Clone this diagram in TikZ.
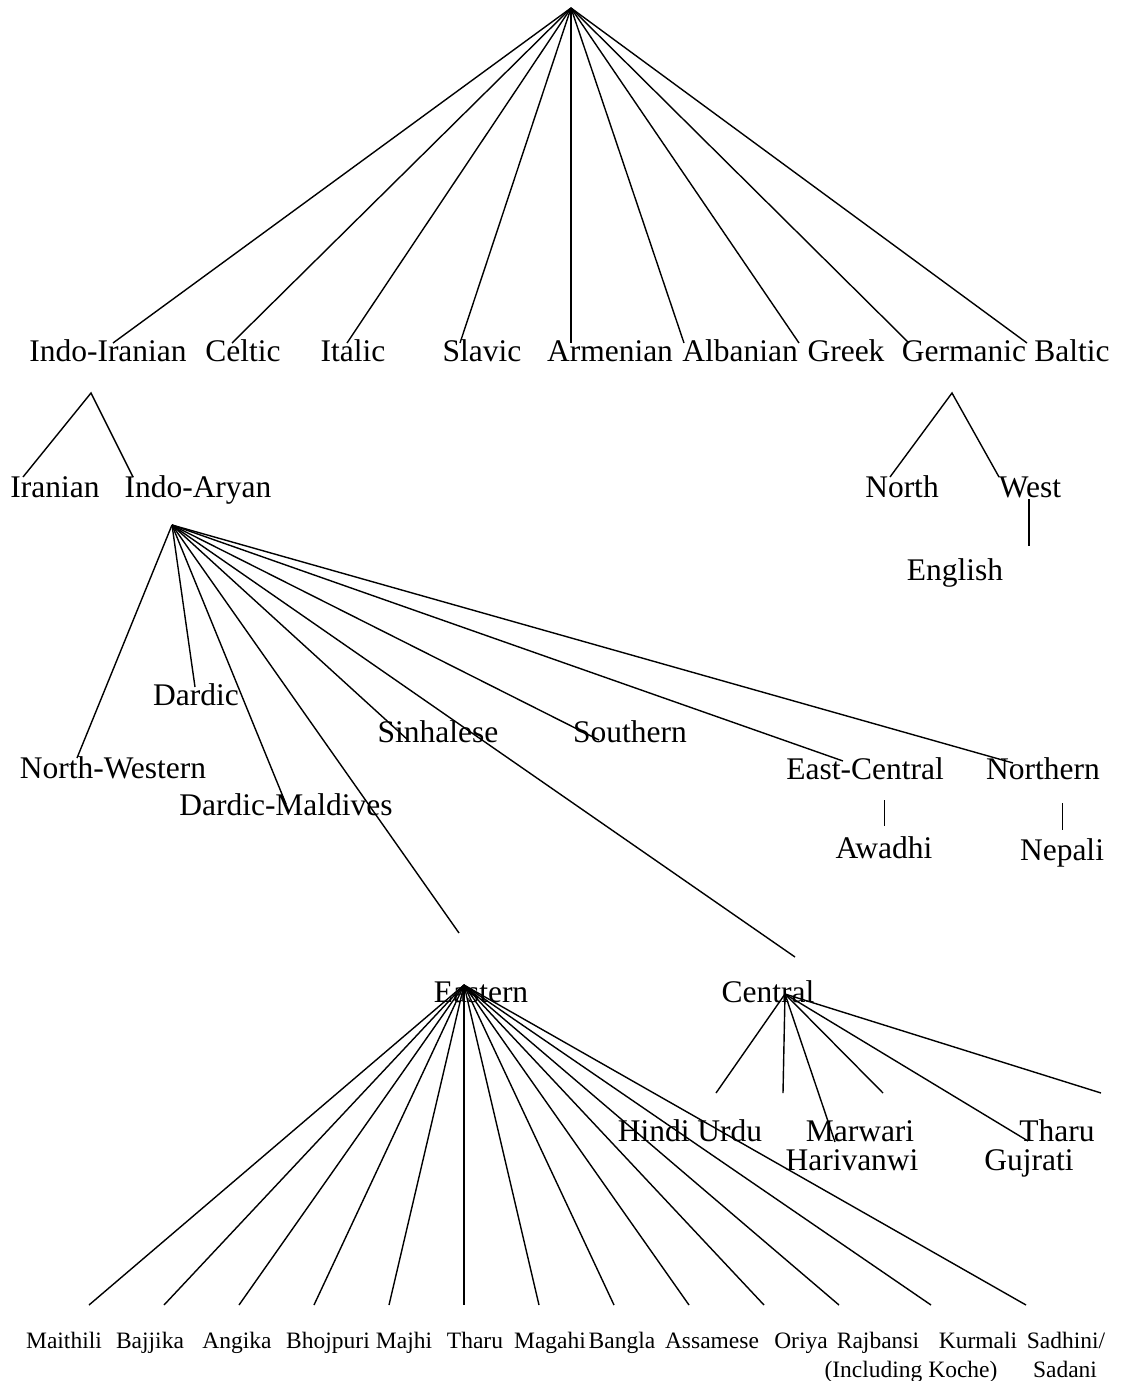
\documentclass[tikz,border=0pt]{standalone}
\usepackage{fontspec}
\setmainfont{Liberation Serif}
\usetikzlibrary{positioning}

\begin{document}
\begin{tikzpicture}[x=0.5pt, y=-0.5pt, line width=0.7pt,
    lang/.style={anchor=base, inner sep=0pt, font=\fontsize{15.75}{18}\selectfont},
    leaf/.style={anchor=base, inner sep=0pt, font=\fontsize{11.75}{14}\selectfont}]

        \useasboundingbox (0,0) rectangle (1120,1381);

        % Root and the first level
        \coordinate (ie) at (571, 8);
        \node[lang] (indoiranian) at (108, 361) {Indo-Iranian};
        \node[lang] (celtic) at (243, 361) {Celtic};
        \node[lang] (italic) at (353, 361) {Italic};
        \node[lang] (slavic) at (482, 361) {Slavic};
        \node[lang] (armenian) at (610, 361) {Armenian};
        \node[lang] (albanian) at (740, 361) {Albanian};
        \node[lang] (greek) at (846, 361) {Greek};
        \node[lang] (germanic) at (964, 361) {Germanic};
        \node[lang] (baltic) at (1072, 361) {Baltic};

        \coordinate (t1) at (113, 343);
        \coordinate (t2) at (232, 343);
        \coordinate (t3) at (347, 343);
        \coordinate (t4) at (460, 343);
        \coordinate (t5) at (571, 343);
        \coordinate (t6) at (684, 343);
        \coordinate (t7) at (799, 343);
        \coordinate (t8) at (909, 343);
        \coordinate (t9) at (1027, 343);
        \draw (ie) -- (t1);
        \draw (ie) -- (t2);
        \draw (ie) -- (t3);
        \draw (ie) -- (t4);
        \draw (ie) -- (t5);
        \draw (ie) -- (t6);
        \draw (ie) -- (t7);
        \draw (ie) -- (t8);
        \draw (ie) -- (t9);

        % Indo-Iranian and Germanic branches
        \coordinate (ii) at (91, 393);
        \node[lang] (iranian) at (55, 497) {Iranian};
        \node[lang] (indoaryan) at (198, 497) {Indo-Aryan};
        \coordinate (ii1) at (23, 477);
        \coordinate (ii2) at (133, 477);
        \draw (ii1) -- (ii) -- (ii2);

        \coordinate (gm) at (952, 393);
        \node[lang] (north) at (902, 497) {North};
        \node[lang] (west) at (1030, 497) {West};
        \node[lang] (english) at (955, 580) {English};
        \coordinate (gm1) at (890, 477);
        \coordinate (gm2) at (999, 477);
        \draw (gm1) -- (gm) -- (gm2);
        \coordinate (w1) at (1029, 499);
        \coordinate (w2) at (1029, 546);
        \draw (w1) -- (w2);

        % Indo-Aryan
        \coordinate (ia) at (172, 525);
        \node[lang] (dardic) at (196, 705) {Dardic};
        \node[lang] (northwestern) at (113, 778) {North-Western};
        \node[lang] (maldives) at (286, 815) {Dardic-Maldives};
        \node[lang] (sinhalese) at (438, 742) {Sinhalese};
        \node[lang] (southern) at (630, 742) {Southern};
        \node[lang] (eastcentral) at (865, 779) {East-Central};
        \node[lang] (northern) at (1043, 779) {Northern};
        \node[lang] (eastern) at (481, 1002) {Eastern};
        \node[lang] (central) at (768, 1002) {Central};

        \coordinate (a1) at (77, 758);
        \coordinate (a2) at (195, 687);
        \coordinate (a3) at (286, 804);
        \coordinate (a4) at (459, 933);
        \coordinate (a5) at (408, 740);
        \coordinate (a6) at (795, 957);
        \coordinate (a7) at (599, 740);
        \coordinate (a8) at (843, 761);
        \coordinate (a9) at (1013, 763);
        \draw (ia) -- (a1);
        \draw (ia) -- (a2);
        \draw (ia) -- (a3);
        \draw (ia) -- (a4);
        \draw (ia) -- (a5);
        \draw (ia) -- (a6);
        \draw (ia) -- (a7);
        \draw (ia) -- (a8);
        \draw (ia) -- (a9);

        \node[lang] (awadhi) at (884, 858) {Awadhi};
        \node[lang] (nepali) at (1062, 860) {Nepali};
        \coordinate (ec1) at (884, 800);
        \coordinate (ec2) at (884, 826);
        \coordinate (no1) at (1062, 803);
        \coordinate (no2) at (1062, 830);
        \draw[line width=0.4pt] (ec1) -- (ec2);
        \draw[line width=0.4pt] (no1) -- (no2);

        % Central
        \coordinate (ce) at (785, 994);
        \node[lang] (hindiurdu) at (690, 1141) {Hindi Urdu};
        \node[lang] (marwari) at (860, 1141) {Marwari};
        \node[lang] (harivanwi) at (852, 1170) {Harivanwi};
        \node[lang] (tharuc) at (1057, 1141) {Tharu};
        \node[lang] (gujrati) at (1029, 1170) {Gujrati};
        \coordinate (c1) at (716, 1093);
        \coordinate (c2) at (783, 1093);
        \coordinate (c3) at (835, 1142);
        \coordinate (c4) at (883, 1093);
        \coordinate (c5) at (1028, 1141);
        \coordinate (c6) at (1101, 1093);
        \draw (ce) -- (c1);
        \draw (ce) -- (c2);
        \draw (ce) -- (c3);
        \draw (ce) -- (c4);
        \draw (ce) -- (c5);
        \draw (ce) -- (c6);

        % Eastern
        \coordinate (ea) at (464, 985);
        \node[leaf] (maithili) at (64, 1348) {Maithili};
        \node[leaf] (bajjika) at (150, 1348) {Bajjika};
        \node[leaf] (angika) at (237, 1348) {Angika};
        \node[leaf] (bhojpuri) at (328, 1348) {Bhojpuri};
        \node[leaf] (majhi) at (404, 1348) {Majhi};
        \node[leaf] (tharue) at (475, 1348) {Tharu};
        \node[leaf] (magahi) at (550, 1348) {Magahi};
        \node[leaf] (bangla) at (622, 1348) {Bangla};
        \node[leaf] (assamese) at (712, 1348) {Assamese};
        \node[leaf] (oriya) at (801, 1348) {Oriya};
        \node[leaf] (rajbansi) at (878, 1348) {Rajbansi};
        \node[leaf] (koche) at (911, 1377) {(Including Koche)};
        \node[leaf] (kurmali) at (978, 1348) {Kurmali};
        \node[leaf] (sadhini) at (1066, 1348) {Sadhini/};
        \node[leaf] (sadani) at (1065, 1377) {Sadani};

        \coordinate (e1) at (89, 1305);
        \coordinate (e2) at (164, 1305);
        \coordinate (e3) at (239, 1305);
        \coordinate (e4) at (314, 1305);
        \coordinate (e5) at (389, 1305);
        \coordinate (e6) at (464, 1305);
        \coordinate (e7) at (539, 1305);
        \coordinate (e8) at (614, 1305);
        \coordinate (e9) at (689, 1305);
        \coordinate (e10) at (764, 1305);
        \coordinate (e11) at (839, 1305);
        \coordinate (e12) at (931, 1305);
        \coordinate (e13) at (1026, 1305);
        \draw (ea) -- (e1);
        \draw (ea) -- (e2);
        \draw (ea) -- (e3);
        \draw (ea) -- (e4);
        \draw (ea) -- (e5);
        \draw (ea) -- (e6);
        \draw (ea) -- (e7);
        \draw (ea) -- (e8);
        \draw (ea) -- (e9);
        \draw (ea) -- (e10);
        \draw (ea) -- (e11);
        \draw (ea) -- (e12);
        \draw (ea) -- (e13);

    \end{tikzpicture}
\end{document}
